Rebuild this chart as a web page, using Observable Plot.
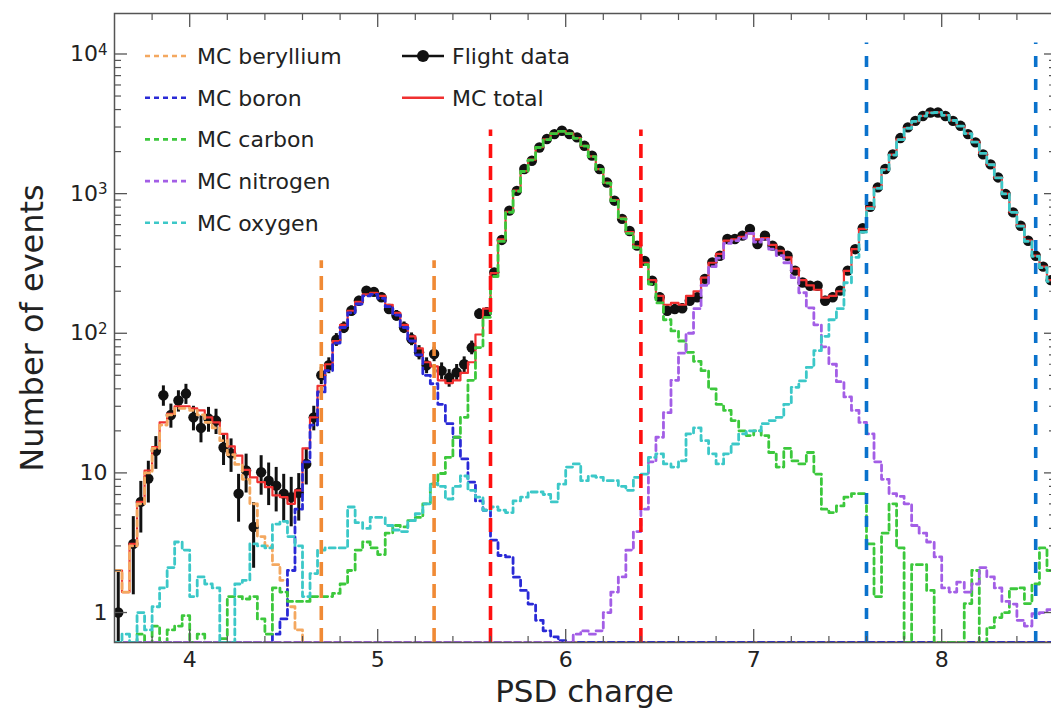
<!DOCTYPE html>
<html><head><meta charset="utf-8">
<script src="https://cdn.jsdelivr.net/npm/d3@7"></script>
<script src="https://cdn.jsdelivr.net/npm/@observablehq/plot@0.6"></script>
<style>
html,body{margin:0;padding:0;background:#fff;overflow:hidden;}
#wrap{position:relative;width:1055px;height:715px;overflow:hidden;}
#legend{position:absolute;left:0;top:0;pointer-events:none;}
</style></head>
<body><div id="wrap"></div>
<script>
// ---- data (bins of width 0.04 starting at 3.6) ----
const binStart = 3.6;
const binWidth = 0.04;
const xEnd = 8.6;

const flightData = [
  1.0, 0, 3.1, 6.2, 9.1, 14.4, 36, 26, 33, 37,
  25, 21, 24.5, 23.7, 15.2, 13.8, 7.1, 10.4, 4.1, 10.1,
  8.8, 8.1, 7.1, 6.7, 7.2, 11.6, 25, 50, 59, 90,
  110, 145, 171, 202, 198, 181, 149, 134, 110, 91,
  73, 59, 71, 54, 48, 52.5, 60, 79, 138, 141,
  273, 466, 755, 1047, 1500, 1720, 2140, 2460, 2670, 2820,
  2670, 2530, 2200, 1870, 1500, 1200, 890, 660, 540, 424,
  330, 238, 181, 145, 149, 151, 171, 181, 245, 322,
  359, 473, 473, 500, 558, 436, 500, 424, 390, 359,
  281, 231, 219, 219, 171, 181, 202, 281, 400, 565,
  805, 1108, 1500, 1910, 2500, 2980, 3320, 3600, 3810, 3810,
  3600, 3320, 3060, 2670, 2330, 1910, 1620, 1306, 993, 734,
  589, 460, 359, 300, 240
];
const mcTotal = [
  2.0, 1.4, 3.1, 6.2, 10.4, 15.3, 23, 26.5, 30, 30,
  29, 28, 25, 23, 19, 15.5, 13.3, 10.5, 9.3, 8.6,
  7.9, 6.9, 6.7, 6.0, 7.5, 15, 25, 42, 60, 88,
  115, 145, 168, 190, 195, 185, 160, 140, 115, 95,
  78, 62, 58, 46, 44, 46, 52, 62, 98, 150,
  270, 470, 740, 1050, 1450, 1750, 2150, 2450, 2700, 2800,
  2700, 2500, 2200, 1850, 1500, 1200, 900, 670, 530, 420,
  320, 240, 185, 160, 165, 160, 185, 200, 250, 320,
  370, 460, 470, 490, 520, 470, 480, 430, 390, 350,
  290, 240, 220, 205, 180, 185, 200, 280, 400, 560,
  800, 1100, 1500, 1900, 2450, 2950, 3300, 3600, 3800, 3820,
  3650, 3350, 3050, 2700, 2350, 1950, 1620, 1300, 1000, 740,
  590, 460, 360, 300, 240
];
const mcBeryllium = [
  2.0, 1.4, 3.0, 6.0, 10, 15, 22, 26, 29, 29,
  28, 26, 23, 21, 17, 13.5, 11.5, 9, 6, 3.5,
  3.0, 2.2, 1.7, 1.1, 0.75, 0, 0, 0, 0, 0,
  0, 0, 0, 0, 0, 0, 0, 0, 0, 0,
  0, 0, 0, 0, 0, 0, 0, 0, 0, 0,
  0, 0, 0, 0, 0, 0, 0, 0, 0, 0,
  0, 0, 0, 0, 0, 0, 0, 0, 0, 0,
  0, 0, 0, 0, 0, 0, 0, 0, 0, 0,
  0, 0, 0, 0, 0, 0, 0, 0, 0, 0,
  0, 0, 0, 0, 0, 0, 0, 0, 0, 0,
  0, 0, 0, 0, 0, 0, 0, 0, 0, 0,
  0, 0, 0, 0, 0, 0, 0, 0, 0, 0,
  0, 0, 0, 0, 0
];
const mcBoron = [
  0, 0, 0, 0, 0, 0, 0, 0, 0, 0,
  0, 0, 0, 0, 0, 0, 0, 0, 0, 0,
  0, 0.7, 0.9, 2.0, 5.5, 12, 22, 38, 54, 85,
  110, 140, 162, 185, 190, 178, 155, 135, 110, 88,
  70, 50, 43.5, 31, 22.5, 18, 12.6, 8.6, 6.3, 5.4,
  3.3, 2.56, 2.5, 1.79, 1.44, 1.15, 0.88, 0.74, 0.67, 0.63,
  0, 0, 0, 0, 0, 0, 0, 0, 0, 0,
  0, 0, 0, 0, 0, 0, 0, 0, 0, 0,
  0, 0, 0, 0, 0, 0, 0, 0, 0, 0,
  0, 0, 0, 0, 0, 0, 0, 0, 0, 0,
  0, 0, 0, 0, 0, 0, 0, 0, 0, 0,
  0, 0, 0, 0, 0, 0, 0, 0, 0, 0,
  0, 0, 0, 0, 0
];
const mcCarbon = [
  0, 0, 0, 0.7, 0, 0.8, 0, 0.75, 0.8, 0.95,
  0, 0.7, 0, 0, 0.65, 1.3, 1.3, 1.25, 1.3, 0.9,
  0.7, 1.5, 1.4, 1.2, 1.2, 1.2, 1.3, 1.3, 1.3, 1.37,
  1.6, 2.0, 2.8, 3.2, 2.9, 2.6, 3.7, 4.2, 4.1, 4.55,
  4.8, 6.0, 8.3, 9.9, 12.9, 18, 25, 46, 79, 130,
  255, 455, 735, 1040, 1440, 1740, 2140, 2440, 2690, 2790,
  2690, 2490, 2190, 1840, 1490, 1190, 890, 660, 520, 410,
  310, 225, 165, 125, 104, 88, 73, 63, 54, 40,
  31, 28, 23.7, 20, 18.5, 20, 18.5, 14, 11, 15,
  12.2, 11.6, 14, 9.8, 5.5, 5.2, 5.8, 6.7, 7.1, 7.1,
  3.1, 1.3, 3.7, 6, 2.9, 0, 2.2, 2.2, 1.44, 0,
  0, 0, 0, 1.16, 2.0, 0, 0.78, 0.92, 1.0, 1.48,
  1.5, 1.16, 1.6, 2.9, 2.0
];
const mcNitrogen = [
  0, 0, 0, 0, 0, 0, 0, 0, 0, 0,
  0, 0, 0, 0, 0, 0, 0, 0, 0, 0,
  0, 0, 0, 0, 0, 0, 0, 0, 0, 0,
  0, 0, 0, 0, 0, 0, 0, 0, 0, 0,
  0, 0, 0, 0, 0, 0, 0, 0, 0, 0,
  0, 0, 0, 0, 0, 0, 0, 0, 0, 0,
  0, 0.7, 0.74, 0.7, 0.74, 1.0, 1.4, 1.8, 2.8, 3.8,
  5.5, 12, 18, 27, 46, 72, 100, 150, 220, 300,
  345, 440, 460, 480, 520, 450, 470, 400, 360, 320,
  250, 195, 152, 115, 80, 60, 45, 35, 28, 23,
  19, 12, 9, 7.1, 6.8, 6.0, 4.2, 3.7, 3.2, 2.5,
  1.5, 1.4, 1.65, 1.4, 1.6, 2.1, 1.8, 1.5, 1.2, 1.15,
  0.88, 0.8, 0.98, 1.0, 1.05
];
const mcOxygen = [
  0, 0.7, 0, 1.0, 0.75, 1.1, 1.5, 2.1, 3.2, 2.8,
  1.3, 1.8, 1.6, 1.5, 0, 0, 1.6, 1.7, 3.1, 3.0,
  2.9, 4.3, 4.5, 3.5, 3.0, 1.3, 1.9, 2.8, 2.9, 2.9,
  2.9, 5.7, 4.4, 4.0, 4.8, 4.8, 4.2, 3.9, 3.8, 4.55,
  5.1, 6.0, 8.4, 8.0, 6.5, 8.0, 9.5, 7.5, 6.7, 5.4,
  5.7, 5.4, 5.2, 6.3, 6.7, 7.3, 7.3, 7.0, 6.2, 8.3,
  11, 11.6, 8.8, 9.5, 9.3, 8.8, 8.8, 8.0, 7.5, 9.3,
  9.8, 12.9, 13.7, 11.6, 11, 12.2, 19, 21, 17, 13.7,
  11.6, 13.7, 16.1, 19, 20, 20, 22.5, 23.7, 25, 31,
  41, 45.6, 57, 75, 95, 125, 150, 230, 350, 530,
  780, 1090, 1480, 1890, 2440, 2940, 3290, 3590, 3790, 3810,
  3640, 3340, 3040, 2690, 2340, 1940, 1610, 1295, 995, 735,
  585, 455, 355, 295, 235
];

const componentNames = ["MC beryllium", "MC boron", "MC carbon", "MC nitrogen", "MC oxygen"];
const componentColors = ["#f4a860", "#2a2ad6", "#3cc83c", "#a35ee6", "#3cc8c8"];
const componentValues = [mcBeryllium, mcBoron, mcCarbon, mcNitrogen, mcOxygen];

const cutPositions = [4.7, 5.3, 5.6, 6.4, 7.6, 8.5];
const cutTops = [330, 330, 2850, 2850, 12000, 12000];
const cutColors = ["#f08a35", "#f08a35", "#ff1010", "#ff1010", "#0a72cc", "#0a72cc"];
const cutDash = ["14,8", "14,8", "14,8", "14,8", "11,12", "11,12"];

const xTickValues = [4, 5, 6, 7, 8];
const yTickValues = [1, 10, 100, 1000, 10000];
const yTickLabels = ["1", "10", "10^2", "10^3", "10^4"];

const YMIN = 0.61, YMAX = 19500;

// ---- build tables ----
const edges = flightData.map((_, i) => binStart + binWidth * i);
const centers = edges.map(e => e + binWidth / 2);
function stepRows(vals) {
  const rows = vals.map((v, i) => ({x: edges[i], y: v > 0 ? v : YMIN}));
  rows.push({x: xEnd, y: rows[rows.length - 1].y});
  return rows;
}
const flightRows = flightData.map((v, i) => ({x: centers[i], y: v,
  lo: Math.max(v - Math.sqrt(v), YMIN * 0.8), hi: v + Math.sqrt(v)})).filter(d => d.y > 0);
const cuts = cutPositions.map((x, i) => ({x, top: cutTops[i], color: cutColors[i], dash: cutDash[i]}));

const xMinor = d3.range(3.8, 8.61, 0.2).map(v => +v.toFixed(2)).filter(v => Math.abs(v - Math.round(v)) > 1e-6);
const yMinor = [];
for (const d of [1, 10, 100, 1000]) for (let k = 2; k <= 9; k++) yMinor.push(d * k);

const axisStroke = "#555";
const compDash = "6,4";
const marks = [
  Plot.ruleX(flightRows, {x: "x", y1: "lo", y2: "hi", stroke: "#111", strokeWidth: 3, clip: true}),
  Plot.dot(flightRows, {x: "x", y: "y", r: 5.2, fill: "#111", stroke: "none", clip: true}),
  Plot.line(stepRows(mcTotal), {x: "x", y: "y", curve: "step-after", stroke: "#f03030", strokeWidth: 2.2, clip: true}),
  ...componentValues.map((vals, i) => Plot.line(stepRows(vals), {x: "x", y: "y", curve: "step-after",
      stroke: componentColors[i], strokeWidth: 2.8, strokeDasharray: compDash, clip: true})),
  ...cuts.map(c => Plot.ruleX([c], {x: "x", y1: YMIN, y2: "top", stroke: c.color, strokeWidth: 3.6, strokeDasharray: c.dash, clip: true})),
  Plot.frame({stroke: axisStroke, strokeWidth: 1.5}),
  // inward ticks
  Plot.axisY(yTickValues, {anchor: "left", tickSize: 13, insetLeft: 13, fill: "none", stroke: axisStroke, strokeWidth: 1.3, label: null}),
  Plot.axisY(yMinor, {anchor: "left", tickSize: 7, insetLeft: 7, fill: "none", stroke: axisStroke, strokeWidth: 1.2, label: null}),
  Plot.axisY(yTickValues, {anchor: "right", tickSize: 11, insetRight: 11, fill: "none", stroke: axisStroke, strokeWidth: 1.3, label: null}),
  Plot.axisY(yMinor, {anchor: "right", tickSize: 6, insetRight: 6, fill: "none", stroke: axisStroke, strokeWidth: 1.2, label: null}),
  Plot.axisX(xTickValues, {anchor: "bottom", tickSize: 13, insetBottom: 13, fill: "none", stroke: axisStroke, strokeWidth: 1.3, label: null}),
  Plot.axisX(xMinor, {anchor: "bottom", tickSize: 6, insetBottom: 6, fill: "none", stroke: axisStroke, strokeWidth: 1.2, label: null}),
  Plot.axisX(xTickValues, {anchor: "top", tickSize: 13, insetTop: 13, fill: "none", stroke: axisStroke, strokeWidth: 1.3, label: null}),
  Plot.axisX(xMinor, {anchor: "top", tickSize: 6, insetTop: 6, fill: "none", stroke: axisStroke, strokeWidth: 1.2, label: null}),
  // tick labels
  Plot.axisX(xTickValues, {anchor: "bottom", tickSize: 0, tickPadding: 9, fontSize: 22, fill: "#222", label: null, tickFormat: d => String(d)}),
  Plot.axisY(yTickValues, {anchor: "left", tickSize: 0, tickPadding: 7, fontSize: 22, fill: "#222", label: null,
      tickFormat: d => yTickLabels[yTickValues.indexOf(d)]}),
  // axis titles
  Plot.text(["PSD charge"], {frameAnchor: "bottom", textAnchor: "middle", dy: 59, fontSize: 31, fill: "#222", text: d => d}),
  Plot.text(["Number of events"], {frameAnchor: "left", textAnchor: "middle", dx: -82, rotate: -90, fontSize: 32, fill: "#222", text: d => d})
];

const chart = Plot.plot({
  width: 1055, height: 715,
  marginLeft: 114, marginRight: 1, marginTop: 13, marginBottom: 73,
  style: {fontFamily: "'DejaVu Sans', sans-serif", color: "#222", background: "white", maxWidth: "none"},
  x: {domain: [binStart, xEnd]},
  y: {type: "log", domain: [YMIN, YMAX]},
  marks
});
chart.style.maxWidth = "none";

// superscripts for 10^n
d3.select(chart).selectAll("text").each(function() {
  const t = d3.select(this);
  if (this.querySelector("tspan")) return;
  const s = t.text();
  if (s.includes("^")) {
    const [b, e] = s.split("^");
    t.text(null);
    t.append("tspan").text(b);
    t.append("tspan").attr("dy", "-0.42em").attr("font-size", "15px").text(e);
  }
});
const wrap = document.getElementById("wrap");
wrap.appendChild(chart);

// ---- legend overlay ----
const legendSvg = d3.select(wrap).append("svg").attr("id", "legend")
  .attr("width", 1055).attr("height", 715)
  .style("font-family", "'DejaVu Sans', sans-serif");
const rowY = i => 56 + 41.7 * i;
componentNames.forEach((name, i) => {
  const g = legendSvg.append("g");
  g.append("line").attr("x1", 145).attr("x2", 189).attr("y1", rowY(i)).attr("y2", rowY(i))
    .attr("stroke", componentColors[i]).attr("stroke-width", 2.6).attr("stroke-dasharray", "5,4");
  g.append("text").attr("x", 197).attr("y", rowY(i) + 8).attr("font-size", 22).attr("fill", "#222").text(name);
});
const legend2 = [{name: "Flight data", color: "#111", dot: true}, {name: "MC total", color: "#f03030", dot: false}];
legend2.forEach((d, i) => {
  const g = legendSvg.append("g");
  g.append("line").attr("x1", 402).attr("x2", 444).attr("y1", rowY(i)).attr("y2", rowY(i))
    .attr("stroke", d.color).attr("stroke-width", 2.6);
  if (d.dot) g.append("circle").attr("cx", 423).attr("cy", rowY(i)).attr("r", 6).attr("fill", d.color);
  g.append("text").attr("x", 452).attr("y", rowY(i) + 8).attr("font-size", 22).attr("fill", "#222").text(d.name);
});
</script>
</body></html>
